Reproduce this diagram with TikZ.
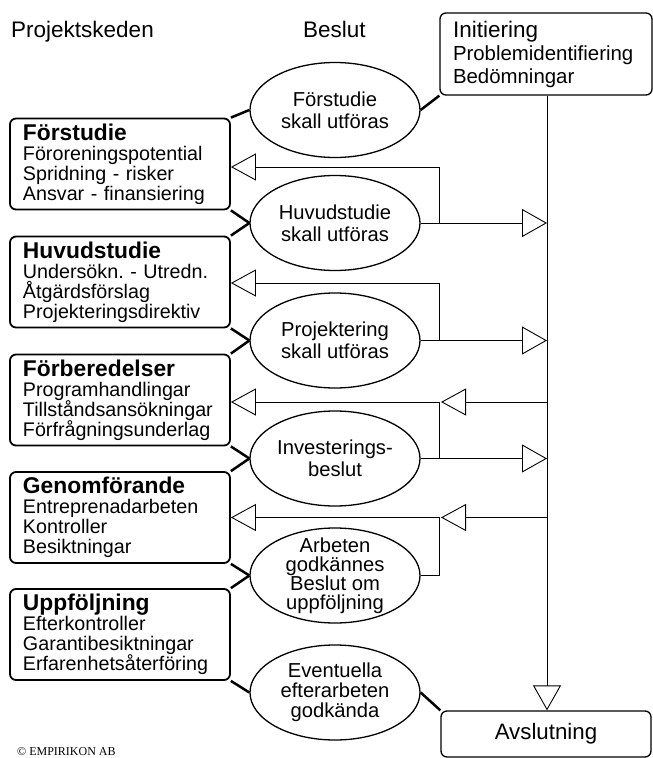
\documentclass[tikz,border=0pt]{standalone}
\usepackage{fontspec}
\setmainfont{Liberation Sans}
\newfontfamily\copyfont{Liberation Serif}
\usetikzlibrary{shapes.geometric,arrows.meta}
\frenchspacing
\begin{document}
\begin{tikzpicture}[x=1bp,y=-1bp,
  phase/.style={draw, line width=1.8bp, rounded corners=6bp, minimum width=220bp,
    minimum height=91bp, text width=194bp, inner xsep=13bp, inner ysep=0pt, align=left,
    font=\fontsize{19.7bp}{20bp}\selectfont},
  endbox/.style={draw, line width=1.3bp, rounded corners=6bp, inner sep=0pt},
  dec/.style={draw, ellipse, line width=1.3bp, minimum width=170bp, minimum height=95bp, inner sep=0pt},
  dtext/.style={align=center, inner sep=0pt, font=\fontsize{20.2bp}{22bp}\selectfont},
  hdr/.style={anchor=base west, inner sep=0pt, font=\fontsize{22.5bp}{24bp}\selectfont},
  bond/.style={line width=2.5bp},
  flow/.style={line width=0.9bp},
  back/.style={flow, -{Triangle[open, length=25bp, width=27bp, line width=0.9bp]}},
  fwd/.style={flow, -{Triangle[open, length=25bp, width=28bp, line width=0.9bp]}}
]
\useasboundingbox (0,0) rectangle (653,758);

% headers
\node[hdr] (h1) at (11,37.5) {Projektskeden};
\node[hdr] (h2) at (303,37.5) {Beslut};

% phase boxes
\newcommand{\hd}[1]{{\fontsize{22.8bp}{20bp}\selectfont\bfseries #1}}
\node[phase] (fs) at (120,164) {\hd{Förstudie}\\Föroreningspotential\\Spridning - risker\\Ansvar - finansiering};
\node[phase] (hs) at (120,282) {\hd{Huvudstudie}\\Undersökn. - Utredn.\\Åtgärdsförslag\\Projekteringsdirektiv};
\node[phase] (fbr) at (120,400) {\hd{Förberedelser}\\Programhandlingar\\Tillståndsansökningar\\Förfrågningsunderlag};
\node[phase] (gf) at (120,517.5) {\hd{Genomförande}\\Entreprenadarbeten\\Kontroller\\Besiktningar};
\node[phase] (up) at (120,634.5) {\hd{Uppföljning}\\Efterkontroller\\Garantibesiktningar\\Erfarenhetsåterföring};

% decision ellipses
\node[dec] (e1) at (335,110) {};
\node[dec] (e2) at (335,223) {};
\node[dec] (e3) at (335,340.5) {};
\node[dec] (e4) at (335,458.5) {};
\node[dec] (e5) at (335,575.5) {};
\node[dec] (e6) at (335,692.5) {};
\node[dtext] (t1) at (e1) {Förstudie\\skall utföras};
\node[dtext] (t2) at (e2) {Huvudstudie\\skall utföras};
\node[dtext] (t3) at (e3) {Projektering\\skall utföras};
\node[dtext] (t4) at (e4) {Investerings-\\beslut};
\node[dtext, font=\fontsize{20.2bp}{19bp}\selectfont] (t5) at (e5) {Arbeten\\godkännes\\Beslut om\\uppföljning};
\node[dtext, font=\fontsize{20.2bp}{20bp}\selectfont] (t6) at (e6) {Eventuella\\efterarbeten\\godkända};

% start / end boxes
\node[endbox, minimum width=212bp, minimum height=82bp, text width=186bp, inner xsep=13bp, align=left,
  font=\fontsize{20.4bp}{23bp}\selectfont] (init) at (546,54)
  {{\fontsize{22.5bp}{23bp}\selectfont Initiering}\\Problemidentifiering\\Bedömningar};
\node[endbox, minimum width=210bp, minimum height=46bp, font=\fontsize{22.3bp}{24bp}\selectfont] (avsl) at (546,734) {Avslutning};

% copyright
\node[anchor=base west, inner sep=0pt, font=\copyfont\fontsize{12bp}{14bp}\selectfont] (cp) at (17,755) {© EMPIRIKON AB};

% thick links
\draw[bond] (fs.north east) -- (e1.west);
\draw[bond] (fs.south east) -- (e2.west);
\draw[bond] (hs.north east) -- (e2.west);
\draw[bond] (hs.south east) -- (e3.west);
\draw[bond] (fbr.north east) -- (e3.west);
\draw[bond] (fbr.south east) -- (e4.west);
\draw[bond] (gf.north east) -- (e4.west);
\draw[bond] (gf.south east) -- (e5.west);
\draw[bond] (up.north east) -- (e5.west);
\draw[bond] (up.south east) -- (e6.west);
\draw[bond] (e1.east) -- (init.south west);
\draw[bond] (e6.east) -- (avsl.north west);

% main line
\coordinate (mx) at (547,0);
\coordinate (jx) at (439,0);
\draw[fwd] (init.south -| mx) -- (avsl.north -| mx);

% forward arrows
\draw[fwd] (e2.east) -- (e2.east -| mx);
\draw[fwd] (e3.east) -- (e3.east -| mx);
\draw[fwd] (e4.east) -- (e4.east -| mx);

% feedback arrows
\draw[back] (e2.east -| jx) -- ([yshift=-3bp]fs.east -| jx) -- ([yshift=-3bp]fs.east);
\draw[back] (e3.east -| jx) -- ([yshift=-1bp]hs.east -| jx) -- ([yshift=-1bp]hs.east);
\draw[back] (e4.east -| jx) -- ([yshift=-2bp]fbr.east -| jx) -- ([yshift=-2bp]fbr.east);
\draw[back] ([yshift=-2bp]fbr.east -| mx) -- ([yshift=-2bp,xshift=2bp]fbr.east -| jx);
\draw[back] (e5.east) -- (e5.east -| jx) -- (gf.east -| jx) -- (gf.east);
\draw[back] (gf.east -| mx) -- ([xshift=2bp]gf.east -| jx);
\end{tikzpicture}
\end{document}
